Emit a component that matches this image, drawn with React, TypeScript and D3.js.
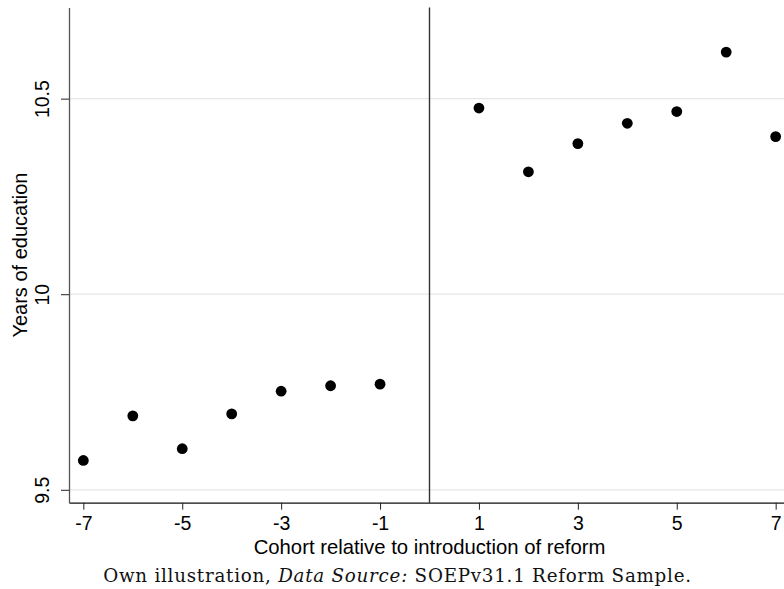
import React, { useEffect, useRef } from 'react';
import * as d3 from 'd3';

// cohort relative to reform, mean years of education
const cohorts = [-7, -6, -5, -4, -3, -2, -1, 1, 2, 3, 4, 5, 6, 7];
const years = [9.575, 9.689, 9.605, 9.694, 9.752, 9.766, 9.770, 10.476, 10.313, 10.385, 10.437, 10.467, 10.619, 10.403];
const xTicks = [-7, -5, -3, -1, 1, 3, 5, 7];
const xTickLabels = ['-7', '-5', '-3', '-1', '1', '3', '5', '7'];
const yTicks = [9.5, 10, 10.5];
const yTickLabels = ['9.5', '10', '10.5'];

const width = 784;
const height = 589;

export default function App() {
    const ref = useRef<SVGSVGElement>(null);

    useEffect(() => {
        const svg = d3.select(ref.current);
        svg.selectAll('*').remove();

        const x = d3.scaleLinear().domain([-7.29, 7.29]).range([69, 790]);
        const y = d3.scaleLinear().domain([9.467, 10.733]).range([502.7, 7.5]);
        const font = 'Liberation Sans, Arial, sans-serif';

        // gridlines
        svg.append('g')
            .selectAll('line')
            .data(yTicks)
            .enter().append('line')
            .attr('x1', x.range()[0])
            .attr('x2', x.range()[1])
            .attr('y1', d => y(d))
            .attr('y2', d => y(d))
            .attr('stroke', '#e6e6e6')
            .attr('stroke-width', 1.2);

        // reform line at 0
        svg.append('line')
            .attr('x1', x(0)).attr('x2', x(0))
            .attr('y1', y.range()[1]).attr('y2', y.range()[0])
            .attr('stroke', '#333')
            .attr('stroke-width', 1.4);

        // x axis
        const xAxis = svg.append('g')
            .attr('transform', `translate(0,${y.range()[0]})`)
            .call(d3.axisBottom(x).tickValues(xTicks).tickSize(7).tickSizeOuter(0)
                .tickFormat((d, i) => xTickLabels[i]));
        xAxis.select('.domain').attr('stroke', '#111').attr('stroke-width', 1.3);
        xAxis.selectAll('.tick line').attr('stroke', '#222').attr('stroke-width', 1);
        xAxis.selectAll('.tick text')
            .attr('y', 27.5)
            .attr('dy', 0)
            .attr('fill', '#000')
            .style('font-family', font)
            .style('font-size', '19.5px');

        // y axis
        const yAxis = svg.append('g')
            .attr('transform', `translate(${x.range()[0]},0)`)
            .call(d3.axisLeft(y).tickValues(yTicks).tickSize(8).tickSizeOuter(0)
                .tickFormat((d, i) => yTickLabels[i]));
        yAxis.select('.domain').attr('stroke', '#555').attr('stroke-width', 1.3);
        yAxis.selectAll('.tick line').attr('stroke', '#222').attr('stroke-width', 1);
        yAxis.selectAll('.tick text')
            .attr('x', 0)
            .attr('dy', 0)
            .attr('transform', 'translate(-20,0) rotate(-90)')
            .attr('text-anchor', 'middle')
            .attr('fill', '#000')
            .style('font-family', font)
            .style('font-size', '19.5px');

        // points
        svg.append('g')
            .selectAll('circle')
            .data(cohorts)
            .enter().append('circle')
            .attr('cx', d => x(d))
            .attr('cy', (d, i) => y(years[i]))
            .attr('r', 5.4)
            .attr('fill', '#000');

        // axis titles
        svg.append('text')
            .attr('x', x(0))
            .attr('y', 554)
            .attr('text-anchor', 'middle')
            .style('font-family', font)
            .style('font-size', '20.3px')
            .text('Cohort relative to introduction of reform');

        svg.append('text')
            .attr('transform', `translate(27,${(y.range()[0] + y.range()[1]) / 2}) rotate(-90)`)
            .attr('text-anchor', 'middle')
            .style('font-family', font)
            .style('font-size', '20px')
            .text('Years of education');

        // caption
        const cap = svg.append('text')
            .attr('x', 397.5)
            .attr('y', 582)
            .attr('text-anchor', 'middle')
            .style('font-family', 'DejaVu Serif, serif')
            .style('font-size', '18.3px')
            .style('letter-spacing', '0.75px')
            .attr('fill', '#111');
        cap.append('tspan').text('Own illustration, ');
        cap.append('tspan').style('font-style', 'italic').text('Data Source:');
        cap.append('tspan').text(' SOEPv31.1 Reform Sample.');
    }, []);

    return (
        <svg ref={ref} width={width} height={height}
            style={{ position: 'absolute', left: 0, top: 0, background: '#fff' }} />
    );
}
